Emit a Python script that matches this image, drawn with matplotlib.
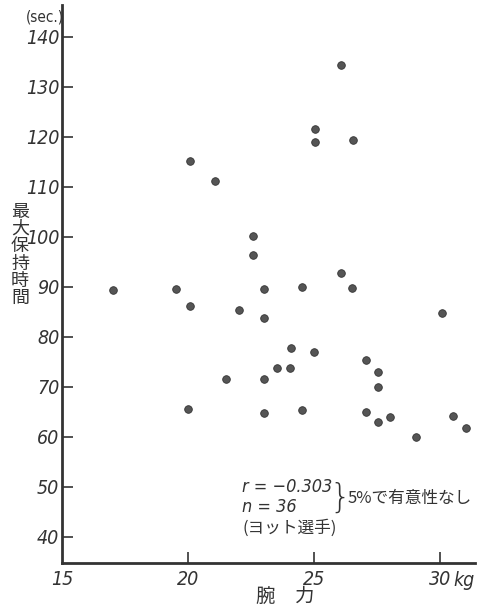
import matplotlib
matplotlib.use("Agg")
import matplotlib.pyplot as plt

# arm strength (kg) vs max holding time (sec), 36 yacht athletes
arm_strength = [26.06, 25.04, 25.04, 26.56, 20.08, 21.07, 22.59, 22.57, 26.07, 19.52,
                23.02, 24.52, 26.53, 20.07, 22.02, 23.02, 30.07, 24.09, 25.01, 27.06,
                27.56, 23.53, 24.05, 21.52, 23.02, 27.55, 20.0, 23.02, 24.55, 27.06,
                27.55, 28.04, 30.53, 31.03, 29.04, 17.04]
hold_time = [134.4, 121.6, 119.1, 119.4, 115.3, 111.3, 100.2, 96.5, 92.9, 89.7,
             89.6, 90.0, 89.9, 86.3, 85.4, 83.8, 84.9, 77.9, 77.0, 75.4,
             73.1, 73.9, 73.9, 71.6, 71.6, 70.0, 65.7, 64.8, 65.4, 65.1,
             63.1, 64.1, 64.3, 61.8, 60.1, 89.5]
x_ticks = [15, 20, 25, 30]
x_ticklabels = ["15", "20", "25", "30"]
y_ticks = [40, 50, 60, 70, 80, 90, 100, 110, 120, 130, 140]

CJK = ["Noto Sans CJK JP", "DejaVu Sans"]
NUM = dict(family="DejaVu Sans", stretch="condensed", style="italic")

fig = plt.figure(figsize=(4.82, 6.10), dpi=100)
ax = fig.add_axes([62/482, 1-563/610, (475-62)/482, (563-5)/610])

ax.scatter(arm_strength, hold_time, s=30, color="#555555", edgecolors="#333333",
           linewidths=0.6, zorder=3)

ax.set_xlim(15, 31.4)
ax.set_ylim(34.8, 146.4)
for s in ["top", "right"]:
    ax.spines[s].set_visible(False)
for s in ["left", "bottom"]:
    ax.spines[s].set_linewidth(2.0)
    ax.spines[s].set_color("#333333")

ax.set_xticks(x_ticks)
ax.set_xticklabels(x_ticklabels, fontsize=14, **NUM)
ax.set_yticks(y_ticks)
ax.set_yticklabels([str(v) for v in y_ticks], fontsize=14, **NUM)
ax.tick_params(axis="y", direction="in", length=8, width=1.2, pad=2, colors="#333333")
ax.tick_params(axis="x", direction="in", length=8, width=1.2, pad=5, colors="#333333")
ax.xaxis.get_major_ticks()[0].tick1line.set_visible(False)

ax.annotate("kg", xy=(30, 34.8), xycoords="data", xytext=(10, -6),
            textcoords="offset points", ha="left", va="top", fontsize=14,
            color="#333333", **NUM)

fig.text(45/482, 1-17/610, "(sec.)", ha="center", va="center", fontsize=11,
         family="DejaVu Sans", stretch="condensed", color="#333333")
fig.text(20/482, 1-255/610, "最\n大\n保\n持\n時\n間", ha="center", va="center",
         fontsize=13, family=CJK, linespacing=0.95, color="#333333")
fig.text(285/482, 1-596/610, "腕　力", ha="center", va="center", fontsize=14,
         family=CJK, color="#333333")

fig.text(242/482, 1-487/610, "r = −0.303", ha="left", va="center", fontsize=13,
         color="#333333", **NUM)
fig.text(242/482, 1-507/610, "n = 36", ha="left", va="center", fontsize=13,
         color="#333333", **NUM)
fig.text(242/482, 1-528/610, "(ヨット選手)", ha="left", va="center", fontsize=12,
         family=CJK, color="#333333")
fig.text(340/482, 1-498/610, "}", ha="center", va="center", fontsize=24,
         family="DejaVu Sans", fontweight="light", color="#333333")
fig.text(348/482, 1-498/610, "5%で有意性なし", ha="left", va="center", fontsize=12,
         family=CJK, color="#333333")

fig.savefig("out.png", dpi=100)
